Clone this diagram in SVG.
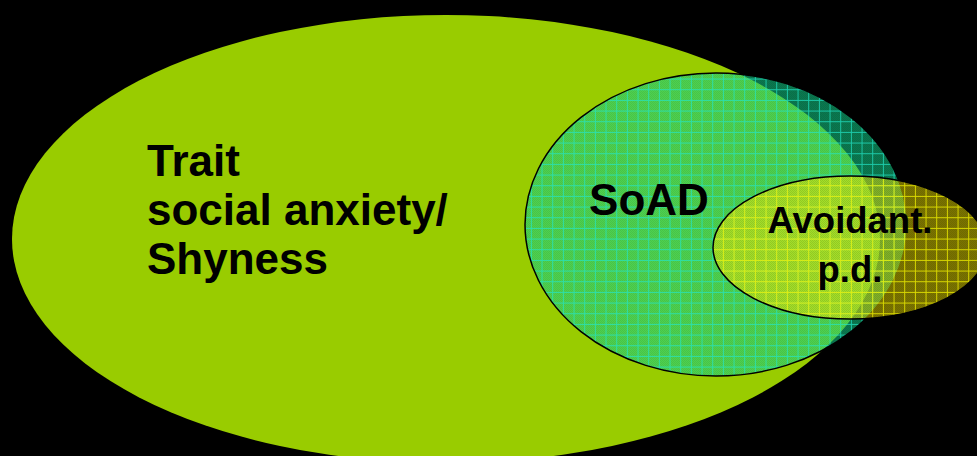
<svg xmlns="http://www.w3.org/2000/svg" width="977" height="456" viewBox="0 0 977 456">
<defs>
<style>
.lbl{font-family:"Liberation Sans",Arial,sans-serif;font-weight:bold;fill:#000}
.outline{fill:none;stroke:#000;stroke-width:1.5}
</style>
<pattern id="checker" patternUnits="userSpaceOnUse" width="2" height="2">
<rect x="0" y="0" width="1" height="1" fill="#000" fill-opacity="0.08"/>
<rect x="1" y="1" width="1" height="1" fill="#000" fill-opacity="0.08"/>
</pattern>
<pattern id="gridCyan" patternUnits="userSpaceOnUse" x="8.2" y="3.9" width="10.667" height="10.667">
<rect x="0" y="0" width="10.667" height="1" fill="#22E6C8" shape-rendering="crispEdges"/>
<rect x="0" y="0" width="1" height="10.667" fill="#22E6C8" shape-rendering="crispEdges"/>
</pattern>
<pattern id="gridYellow" patternUnits="userSpaceOnUse" x="8.2" y="3.9" width="10.667" height="10.667">
<rect x="0" y="0" width="10.667" height="1" fill="#F2F200" shape-rendering="crispEdges"/>
<rect x="0" y="0" width="1" height="10.667" fill="#F2F200" shape-rendering="crispEdges"/>
</pattern>
</defs>
<rect x="0" y="0" width="977" height="456" fill="#000"/>
<g id="trait">
<ellipse cx="446" cy="239" rx="434" ry="224" fill="#99CC00"/>
<text class="lbl" font-size="44" x="147" y="176">Trait</text>
<text class="lbl" font-size="44" x="147" y="225">social anxiety/</text>
<text class="lbl" font-size="44" x="147" y="274">Shyness</text>
</g>
<g id="soad">
<ellipse cx="716" cy="224.5" rx="191" ry="151.5" fill="#14D68C" fill-opacity="0.56"/>
<ellipse cx="716" cy="224.5" rx="191" ry="151.5" fill="url(#checker)"/>
<ellipse cx="716" cy="224.5" rx="191" ry="151.5" fill="url(#gridCyan)" opacity="0.75"/>
<ellipse class="outline" cx="716" cy="224.5" rx="191" ry="151.5"/>
<text class="lbl" font-size="44" x="649" y="215" text-anchor="middle">SoAD</text>
</g>
<g id="avoidant">
<ellipse cx="850" cy="247.5" rx="137" ry="71.5" fill="#FFF000" fill-opacity="0.48"/>
<ellipse cx="850" cy="247.5" rx="137" ry="71.5" fill="url(#checker)"/>
<ellipse cx="850" cy="247.5" rx="137" ry="71.5" fill="url(#gridYellow)" opacity="0.8"/>
<ellipse class="outline" cx="850" cy="247.5" rx="137" ry="71.5"/>
<text class="lbl" font-size="36.5" x="850" y="233" text-anchor="middle">Avoidant.</text>
<text class="lbl" font-size="36.5" x="850" y="282" text-anchor="middle">p.d.</text>
</g>
<g id="connectors"/>
</svg>
